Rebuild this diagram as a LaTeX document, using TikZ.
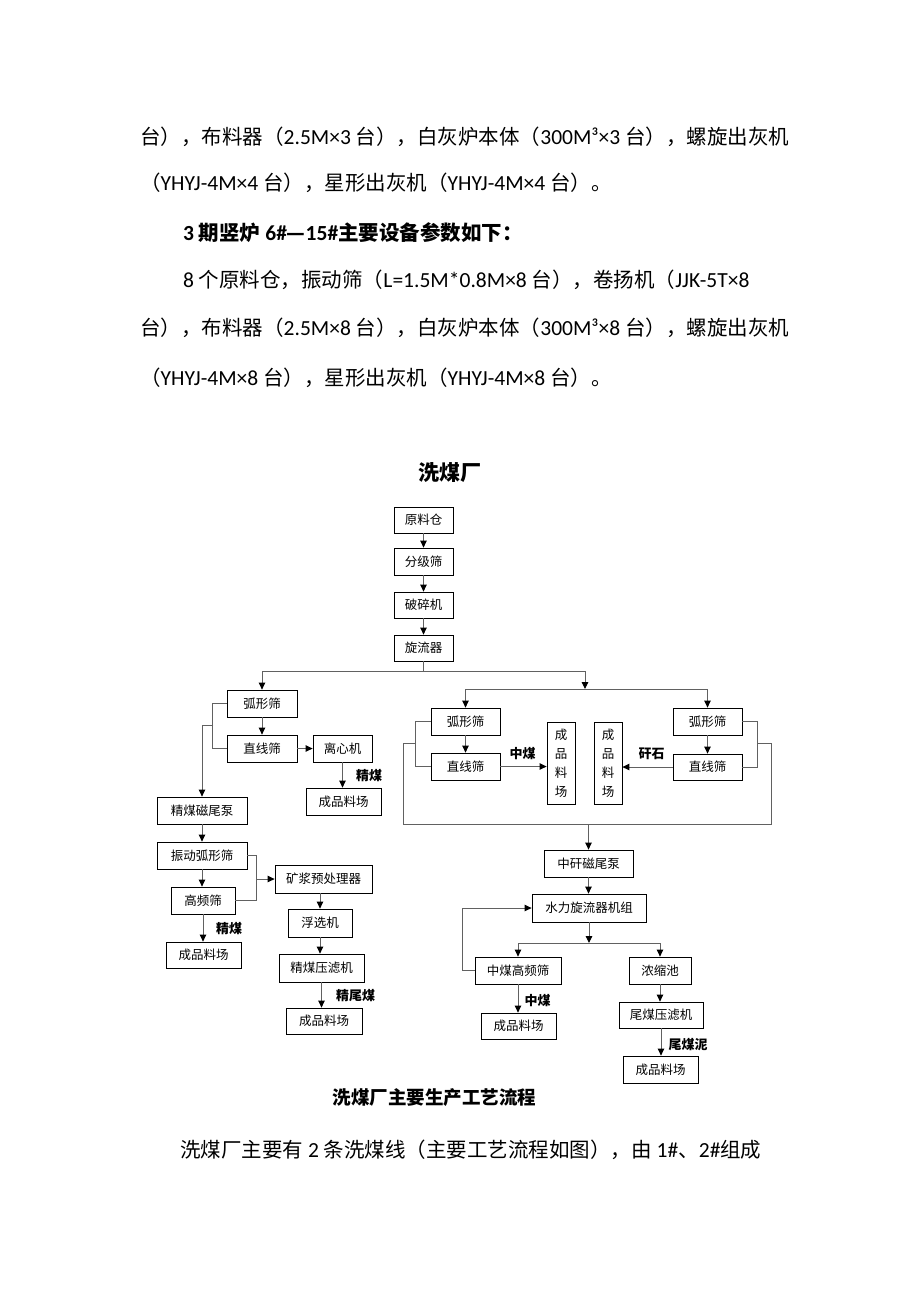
\documentclass[tikz,border=0pt]{standalone}
\usepackage{fontspec}
\setmainfont{Carlito}[Scale=1.05]
\newfontfamily\cjk{Noto Sans CJK SC}
\usetikzlibrary{arrows.meta}
\newcommand\zh[1]{{\cjk #1}}
\tikzset{
  box/.style={draw=black, line width=0.8pt, inner sep=0pt, fill=white,
    font=\cjk\fontsize{12.5}{14}\selectfont},
  bx/.style 2 args={box, minimum width=#1pt, minimum height=#2pt},
  vbx/.style={box, minimum width=28pt, minimum height=82pt, align=center,
    font=\cjk\fontsize{12.5}{19}\selectfont},
  ln/.style={draw=black!62, line width=0.9pt},
  arr/.style={ln, -{Triangle[length=7pt,width=6.5pt,color=black]}},
  lab/.style={inner sep=0pt, font=\cjk\bfseries\fontsize{13}{15}\selectfont},
  body/.style={anchor=west, inner sep=0pt, font=\fontsize{20.5}{24}\selectfont},
}
\begin{document}
\begin{tikzpicture}[x=1pt,y=-1pt]
\fill[white] (0,0) rectangle (920,1302);
\useasboundingbox (0,0) rectangle (920,1302);

% ---- body text ----
\node[body] (t1) at (140,137) {\zh{台），布料器（}2.5M×3 \zh{台），白灰炉本体（}300M³×3 \zh{台），螺旋出灰机}};
\node[body] (t2) at (140,183) {\zh{（}YHYJ-4M×4 \zh{台），星形出灰机（}YHYJ-4M×4 \zh{台）。}};
\node[body, font=\bfseries\fontsize{20.5}{24}\selectfont] (t3) at (183,233) {3 \zh{期竖炉} 6\#\zh{—}15\#\zh{主要设备参数如下：}};
\node[body] (t4) at (183,280) {8 \zh{个原料仓，振动筛（}L=1.5M*0.8M×8 \zh{台），卷扬机（}JJK-5T×8};
\node[body] (t5) at (140,328) {\zh{台），布料器（}2.5M×8 \zh{台），白灰炉本体（}300M³×8 \zh{台），螺旋出灰机}};
\node[body] (t6) at (140,378) {\zh{（}YHYJ-4M×8 \zh{台），星形出灰机（}YHYJ-4M×8 \zh{台）。}};
\node[body] (t7) at (180,1150) {\zh{洗煤厂主要有} 2 \zh{条洗煤线（主要工艺流程如图），由} 1\#\zh{、}2\#\zh{组成}};

% ---- titles ----
\node[inner sep=0pt, font=\cjk\bfseries\fontsize{21}{24}\selectfont] (title) at (450,473) {洗煤厂};
\node[inner sep=0pt, font=\cjk\bfseries\fontsize{18.5}{22}\selectfont] (cap) at (434.5,1098) {洗煤厂主要生产工艺流程};

% ---- main column ----
\node[bx={59}{26}] (yl) at (423.5,520) {原料仓};
\node[bx={59}{27}] (fj) at (423.5,561.5) {分级筛};
\node[bx={59}{26}] (ps) at (423.5,605) {破碎机};
\node[bx={59}{26}] (xl) at (423.5,648) {旋流器};
\draw[arr] (yl) -- (fj);
\draw[arr] (fj) -- (ps);
\draw[arr] (ps) -- (xl);
\coordinate (bL) at (262,671);
\coordinate (bR) at (585,671);
\coordinate (bD) at (585,689);
\coordinate (cL) at (465.5,689);
\coordinate (cR) at (707.5,689);
\draw[ln] (xl.south) -- (xl.south |- bL);
\draw[ln] (bL) -- (bR);
\draw[arr] (bR) -- (bD);
\draw[ln] (cL) -- (cR);

% ---- left branch ----
\node[bx={70}{27}] (hxL) at (262,703.5) {弧形筛};
\node[bx={70}{27}] (zxL) at (262,748.5) {直线筛};
\node[bx={59}{27}] (lxj) at (342.5,748.5) {离心机};
\node[bx={75}{27}] (cp1) at (343.5,801.5) {成品料场};
\node[lab] (l1) at (369,776) {精煤};
\draw[arr] (bL) -- (hxL.north);
\draw[arr] (hxL) -- (zxL);
\draw[arr] (zxL) -- (lxj);
\draw[arr] (lxj.south) -- (lxj.south |- cp1.north);
\draw[ln] (hxL.west) -- ++(-14,0) |- (zxL.west);
\coordinate (lb) at (213,725);
\node[bx={90}{27}] (jcmw) at (202,810.5) {精煤磁尾泵};
\draw[arr] (lb) -| (jcmw.north);

\node[bx={90}{27}] (zdhx) at (202,855.5) {振动弧形筛};
\node[bx={64}{27}] (gp) at (203,900.5) {高频筛};
\node[bx={75}{26}] (cp2) at (203.5,955) {成品料场};
\node[lab] (l2) at (229,929) {精煤};
\draw[arr] (jcmw) -- (zdhx);
\draw[arr] (zdhx.south) -- (zdhx.south |- gp.north);
\draw[arr] (gp.south) -- (gp.south |- cp2.north);
\draw[ln] (zdhx.east) -- ++(9,0) |- (gp.east);
\coordinate (rb) at (256,879);

\node[bx={97}{28}] (kj) at (323.5,879) {矿浆预处理器};
\node[bx={64}{28}] (fx) at (320,923) {浮选机};
\node[bx={85}{28}] (jcyl) at (321.5,968) {精煤压滤机};
\node[bx={76}{26}] (cp3) at (324,1021) {成品料场};
\node[lab] (l3) at (355.5,996) {精尾煤};
\draw[arr] (rb) -- (kj.west);
\draw[arr] (fx.north |- kj.south) -- (fx.north);
\draw[arr] (fx.south) -- (fx.south |- jcyl.north);
\draw[arr] (jcyl.south) -- (jcyl.south |- cp3.north);

% ---- centre / right branch ----
\node[bx={69}{27}] (hxC) at (465.5,721.5) {弧形筛};
\node[bx={69}{27}] (zxC) at (465.5,766.5) {直线筛};
\node[vbx] (cpV1) at (561,763) {成\\品\\料\\场};
\node[vbx] (cpV2) at (608,763) {成\\品\\料\\场};
\node[bx={69}{27}] (hxR) at (707.5,721.5) {弧形筛};
\node[bx={69}{26}] (zxR) at (707.5,767) {直线筛};
\node[lab] (l4) at (522.5,754) {中煤};
\node[lab] (l5) at (651.5,754) {矸石};
\draw[arr] (cL) -- (hxC.north);
\draw[arr] (cR) -- (hxR.north);
\draw[arr] (hxC) -- (zxC);
\draw[arr] (hxR) -- (zxR);
\draw[arr] (zxC.east) -- (cpV1.west |- zxC.east);
\draw[arr] (zxR.west) -- (cpV2.east |- zxR.west);
\draw[ln] (hxC.west) -- ++(-15,0) |- (zxC.west);
\draw[ln] (hxR.east) -- ++(15,0) |- (zxR.east);
\coordinate (lpL) at (416,743);
\coordinate (lpA) at (403,824);
\coordinate (lpB) at (771,824);
\coordinate (lpR) at (757,743);
\draw[ln] (lpL) -| (lpA) -- (lpB) |- (lpR);
\coordinate (lpM) at (588.5,824);

\node[bx={89}{27}] (zmw) at (588.5,863.5) {中矸磁尾泵};
\node[bx={114}{28}] (slx) at (589,908) {水力旋流器机组};
\draw[arr] (lpM) -- (zmw.north);
\draw[arr] (zmw.south) -- (zmw.south |- slx.north);
\coordinate (bM) at (588.5,943);
\coordinate (dL) at (518,943);
\coordinate (dR) at (660,943);
\draw[arr] (slx.south) -- (slx.south |- bM);
\draw[ln] (dL) -- (dR);

\node[bx={86}{27}] (zmgp) at (518,970.5) {中煤高频筛};
\node[bx={62}{27}] (nsc) at (660,970.5) {浓缩池};
\node[bx={75}{26}] (cp4) at (518.5,1026) {成品料场};
\node[bx={84}{26}] (wmyl) at (661,1015) {尾煤压滤机};
\node[bx={75}{27}] (cp5) at (660.5,1069.5) {成品料场};
\node[lab] (l6) at (537.5,1001) {中煤};
\node[lab] (l7) at (688,1045) {尾煤泥};
\draw[arr] (dL) -- (zmgp.north);
\draw[arr] (dR) -- (nsc.north);
\draw[arr] (zmgp.west) -- ++(-12,0) |- (slx.west);
\draw[arr] (zmgp.south) -- (zmgp.south |- cp4.north);
\draw[arr] (nsc.south) -- (nsc.south |- wmyl.north);
\draw[arr] (wmyl.south) -- (wmyl.south |- cp5.north);
\end{tikzpicture}
\end{document}
